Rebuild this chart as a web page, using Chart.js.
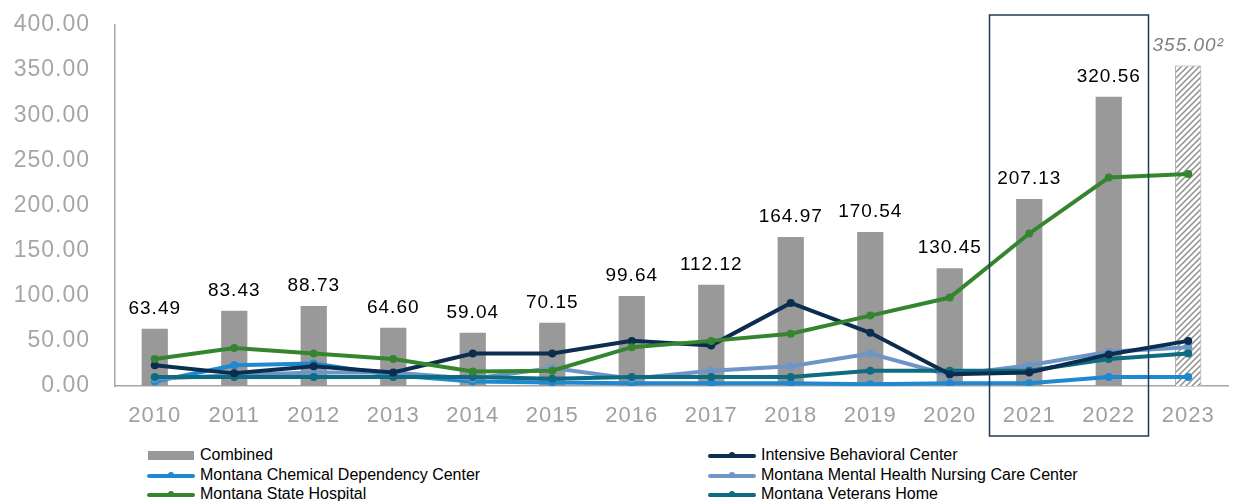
<!DOCTYPE html>
<html>
<head>
<meta charset="utf-8">
<script src="https://cdn.jsdelivr.net/npm/chart.js@4.4.1/dist/chart.umd.min.js"></script>
<style>
  html, body { margin: 0; padding: 0; background: #fff; }
  #wrap { position: relative; width: 1235px; height: 440px; }
  #legend { position: absolute; left: 0; top: 440px; width: 1235px; height: 61px;
    font-family: "Liberation Sans", Arial, sans-serif; font-size: 16px; color: #000; }
  .item { position: absolute; display: flex; align-items: center; height: 19px; white-space: nowrap; }
  .sym { position: relative; width: 48px; height: 19px; margin-right: 5px; }
</style>
</head>
<body>
<div id="wrap"><canvas id="chart" width="1235" height="440"></canvas></div>
<div id="legend"></div>
<script>
const years = ['2010', '2011', '2012', '2013', '2014', '2015', '2016', '2017', '2018', '2019', '2020', '2021', '2022', '2023'];
const combined = [63.49, 83.43, 88.73, 64.60, 59.04, 70.15, 99.64, 112.12, 164.97, 170.54, 130.45, 207.13, 320.56, 355.00];
const intensive = [23, 14, 22, 15, 36, 36, 50, 45, 92, 59, 13, 15, 35, 50];
const chemical = [5, 23, 25, 12, 5, 4, 3, 3, 3, 2, 3, 3, 10, 10];
const mentalHealth = [8, 12, 15, 15, 8, 20, 8, 17, 22, 36, 12, 23, 38, 43];
const stateHospital = [30, 42, 36, 30, 16, 17, 43, 50, 58, 78, 98, 169, 231, 235];
const veterans = [10, 10, 10, 10, 10, 8, 10, 10, 10, 17, 17, 17, 30, 36];
const yTicks = [0, 50, 100, 150, 200, 250, 300, 350, 400];
const projectedYear = '2023';
const boxYears = ['2021', '2022'];

const FONT = '"Liberation Sans", Arial, sans-serif';
Chart.defaults.font.family = FONT;

const canvas = document.getElementById('chart');
const ctx = canvas.getContext('2d');

// diagonal hatch for the projected year
function makeHatch() {
  const c = document.createElement('canvas');
  c.width = 6; c.height = 6;
  const g = c.getContext('2d');
  g.fillStyle = '#fff';
  g.fillRect(0, 0, 6, 6);
  g.strokeStyle = '#8f8f8f';
  g.lineWidth = 1.5;
  g.beginPath();
  g.moveTo(0, 6); g.lineTo(6, 0);
  g.moveTo(-3, 3); g.lineTo(3, -3);
  g.moveTo(3, 9); g.lineTo(9, 3);
  g.stroke();
  return ctx.createPattern(c, 'repeat');
}
const hatch = makeHatch();

function lineSet(label, data, color, order) {
  return {
    type: 'line', label, data, order,
    borderColor: color, backgroundColor: color,
    pointBackgroundColor: color, pointBorderWidth: 0,
    borderWidth: 4, pointRadius: 4, tension: 0
  };
}

const spacing = {
  id: 'spacing',
  beforeDraw(chart) { chart.ctx.letterSpacing = '1px'; }
};

const barLabels = {
  id: 'barLabels',
  afterDatasetsDraw(chart) {
    const c = chart.ctx;
    const meta = chart.getDatasetMeta(0);
    c.save();
    c.textAlign = 'center';
    c.textBaseline = 'alphabetic';
    meta.data.forEach((bar, i) => {
      const proj = years[i] === projectedYear;
      c.font = (proj ? 'italic ' : '') + '19px ' + FONT;
      c.fillStyle = proj ? '#7f7f7f' : '#000';
      c.fillText(combined[i].toFixed(2) + (proj ? '²' : ''), bar.x, bar.y - 15);
    });
    c.restore();
  }
};

const boxPlugin = {
  id: 'box',
  afterDraw(chart) {
    const x = chart.scales.x;
    const a = chart.chartArea;
    const half = (x.getPixelForValue(1) - x.getPixelForValue(0)) / 2;
    const l = x.getPixelForValue(years.indexOf(boxYears[0])) - half;
    const r = x.getPixelForValue(years.indexOf(boxYears[1])) + half;
    const c = chart.ctx;
    c.save();
    c.strokeStyle = '#1f3b5a';
    c.lineWidth = 1.5;
    c.strokeRect(l, a.top - 10, r - l, a.bottom + 50 - (a.top - 10));
    c.restore();
  }
};

const chart = new Chart(canvas, {
  type: 'bar',
  data: {
    labels: years,
    datasets: [
      {
        label: 'Combined', data: combined, order: 10,
        backgroundColor: years.map(y => y === projectedYear ? hatch : '#999999'),
        borderColor: '#9a9a9a',
        borderWidth: years.map(y => y === projectedYear ? 1 : 0),
        barPercentage: 0.33, categoryPercentage: 1
      },
      lineSet('Intensive Behavioral Center', intensive, '#0b2d4f', 2),
      lineSet('Montana Chemical Dependency Center', chemical, '#1e88d0', 5),
      lineSet('Montana Mental Health Nursing Care Center', mentalHealth, '#6d96c8', 4),
      lineSet('Montana State Hospital', stateHospital, '#35852f', 1),
      lineSet('Montana Veterans Home', veterans, '#0e6b80', 3)
    ]
  },
  plugins: [spacing, barLabels, boxPlugin],
  options: {
    responsive: false,
    animation: false,
    layout: { padding: { top: 25, right: 7, left: 0, bottom: 0 } },
    plugins: { legend: { display: false }, tooltip: { enabled: false } },
    scales: {
      x: {
        grid: { display: false, drawTicks: false },
        border: { display: true, color: '#a6a6a6', width: 1.5 },
        ticks: { color: '#a0a0a0', font: { size: 22 }, padding: 17 },
        afterFit(s) { s.height = 54; }
      },
      y: {
        min: 0, max: 400,
        grid: { display: false, drawTicks: false },
        border: { display: true, color: '#a6a6a6', width: 1.5 },
        afterBuildTicks(s) { s.ticks = yTicks.map(v => ({ value: v })); },
        ticks: { color: '#a6a6a6', font: { size: 23 }, padding: 25, callback: v => v.toFixed(2) },
        afterFit(s) { s.width = 115; s.paddingTop = 0; s.paddingBottom = 0; }
      }
    }
  }
});

// two-column legend built from the datasets
const legendEl = document.getElementById('legend');
const rowTops = [5.5, 25.5, 44.5];
chart.data.datasets.forEach((ds, i) => {
  const item = document.createElement('div');
  item.className = 'item';
  item.style.left = (i % 2 ? 708 : 147) + 'px';
  item.style.top = rowTops[Math.floor(i / 2)] + 'px';
  const sym = document.createElement('span');
  sym.className = 'sym';
  if (ds.type === 'line') {
    sym.innerHTML = '<span style="position:absolute;left:0;top:8px;width:48px;height:4px;border-radius:2px;background:' + ds.borderColor + '"></span>' +
      '<span style="position:absolute;left:21px;top:6px;width:6px;height:6px;border-radius:3px;background:' + ds.borderColor + '"></span>';
  } else {
    sym.innerHTML = '<span style="position:absolute;left:1px;top:5px;width:46px;height:9px;background:#999999"></span>';
  }
  const txt = document.createElement('span');
  txt.textContent = ds.label;
  item.appendChild(sym);
  item.appendChild(txt);
  legendEl.appendChild(item);
});
</script>
</body>
</html>
